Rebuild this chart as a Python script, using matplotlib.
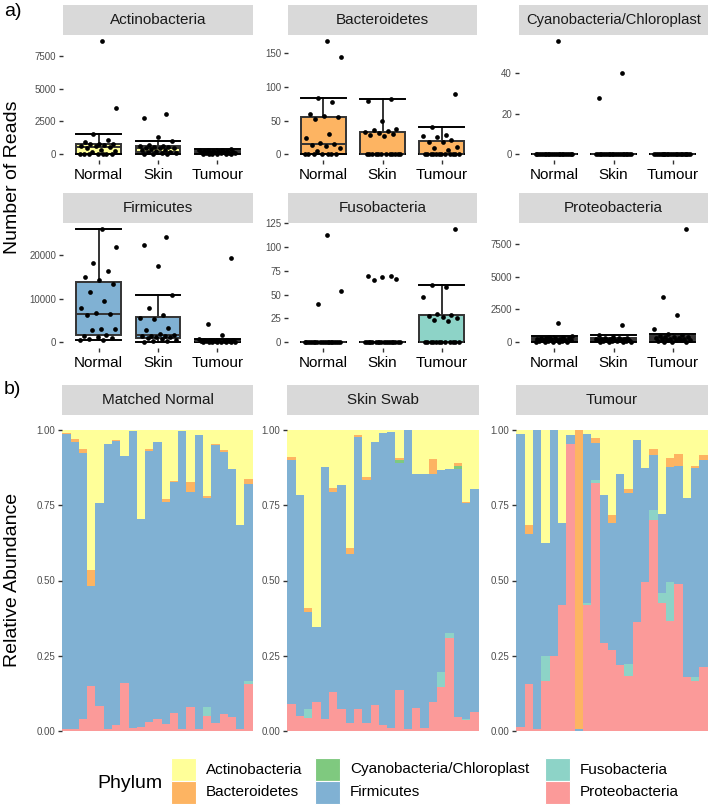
import matplotlib
matplotlib.use('Agg')
import matplotlib.pyplot as plt
from matplotlib.patches import Rectangle
import numpy as np

plt.rcParams['font.family'] = ['Liberation Sans', 'DejaVu Sans']

# ---------------- data: panel a (read counts) ----------------
groups = ['Normal', 'Skin', 'Tumour']
phyla = ['Actinobacteria', 'Bacteroidetes', 'Cyanobacteria/Chloroplast',
         'Firmicutes', 'Fusobacteria', 'Proteobacteria']

actino_normal = [0, 5, 10, 15, 20, 30, 35, 150, 250, 350, 450, 550, 600, 650, 700, 750, 780, 820, 900, 1100, 1550, 3550, 8650]
actino_skin = [10, 20, 40, 80, 120, 190, 210, 250, 300, 350, 400, 450, 480, 500, 520, 560, 600, 640, 700, 1050, 1300, 2750, 3050]
actino_tumour = [5, 12, 25, 33, 48, 60, 72, 90, 105, 118, 140, 155, 170, 190, 205, 230, 250, 270, 290, 310, 335, 360, 390]

bact_normal = [0, 0, 0, 0, 0, 0, 0, 5, 10, 12, 14, 15, 17, 25, 30, 52, 55, 57, 60, 78, 84, 145, 169]
bact_skin = [0, 0, 0, 0, 0, 0, 0, 0, 0, 0, 0, 0, 27, 29, 30, 31, 33, 34, 36, 38, 49, 80, 82]
bact_tumour = [0, 0, 0, 0, 0, 0, 0, 0, 0, 0, 0, 0, 7, 9, 11, 18, 19, 21, 26, 27, 28, 40, 90]

cyano_normal = [0, 0, 0, 0, 0, 0, 0, 0, 0, 0, 0, 0, 0, 0, 0, 0, 0, 0, 0, 0, 0, 0, 56]
cyano_skin = [0, 0, 0, 0, 0, 0, 0, 0, 0, 0, 0, 0, 0, 0, 0, 0, 0, 0, 0, 0, 0, 28, 40]
cyano_tumour = [0, 0, 0, 0, 0, 0, 0, 0, 0, 0, 0, 0, 0, 0, 0, 0, 0, 0, 0, 0, 0, 0, 0]

firm_normal = [450, 500, 700, 900, 1300, 1500, 1700, 2900, 3000, 3100, 6200, 6550, 6700, 8000, 9500, 11500, 13500, 14300, 15000, 16500, 18300, 22000, 26100]
firm_skin = [200, 300, 400, 500, 700, 1000, 1200, 1300, 1400, 1500, 1550, 1600, 2000, 2800, 3300, 5300, 5500, 6300, 8000, 10900, 17600, 22300, 24200]
firm_tumour = [20, 40, 60, 90, 120, 150, 180, 200, 250, 300, 330, 380, 400, 450, 500, 520, 560, 600, 650, 700, 1700, 4300, 19400]

fuso_normal = [0, 0, 0, 0, 0, 0, 0, 0, 0, 0, 0, 0, 0, 0, 0, 0, 0, 0, 0, 0, 40, 54, 112]
fuso_skin = [0, 0, 0, 0, 0, 0, 0, 0, 0, 0, 0, 0, 0, 0, 0, 0, 0, 0, 65, 66, 68, 69, 70]
fuso_tumour = [0, 0, 0, 0, 0, 0, 0, 0, 0, 0, 0, 0, 22, 23, 25, 27, 28, 29, 30, 48, 58, 60, 119]

proteo_normal = [10, 20, 30, 45, 60, 80, 100, 120, 140, 160, 180, 200, 220, 250, 280, 300, 320, 340, 360, 400, 430, 480, 1500]
proteo_skin = [15, 30, 45, 60, 80, 100, 110, 130, 150, 170, 190, 200, 210, 230, 250, 270, 290, 310, 330, 360, 380, 550, 1300]
proteo_tumour = [0, 30, 60, 100, 140, 160, 180, 200, 230, 260, 290, 320, 350, 380, 420, 440, 460, 520, 640, 1030, 2050, 3450, 8650]

ticks_actino = [0, 2500, 5000, 7500]
ticks_bact = [0, 50, 100, 150]
ticks_cyano = [0, 20, 40]
ticks_firm = [0, 10000, 20000]
ticks_fuso = [0, 25, 50, 75, 100, 125]
ticks_proteo = [0, 2500, 5000, 7500]

# ---------------- data: panel b (relative abundance, segment heights) ----------------
sample_types = ['Matched Normal', 'Skin Swab', 'Tumour']

mn_proteo = [.008, .005, .040, .150, .083, .008, .019, .158, .010, .013, .030, .040, .022, .059, .005, .079, .005, .051, .028, .055, .047, .005, .155]
mn_fuso = [0, 0, 0, 0, 0, 0, 0, 0, 0, 0, 0, 0, 0, 0, 0, 0, 0, .027, 0, 0, 0, 0, .010]
mn_firm = [.979, .956, .883, .333, .674, .946, .946, .757, .988, .692, .902, .921, .739, .767, .993, .715, .978, .696, .922, .871, .823, .678, .655]
mn_cyano = [0, 0, 0, 0, 0, 0, 0, 0, 0, 0, 0, 0, 0, 0, 0, 0, 0, 0, 0, 0, 0, 0, 0]
mn_bact = [.004, .008, .014, .052, 0, 0, .002, 0, 0, 0, .004, 0, .010, .006, 0, .032, 0, .008, .004, .007, 0, 0, .017]
mn_actino = [.009, .031, .063, .465, .243, .046, .033, .085, .002, .295, .064, .039, .229, .168, .002, .174, .017, .218, .046, .067, .130, .317, .163]

ss_proteo = [.090, .050, .044, .095, .040, .128, .072, .025, .072, .028, .085, .020, .010, .136, .005, .075, .010, .095, .147, .308, .045, .036, .064]
ss_fuso = [0, 0, .028, 0, 0, 0, 0, 0, 0, 0, 0, 0, 0, 0, 0, 0, 0, 0, .050, .016, 0, .004, 0]
ss_firm = [.809, .733, .324, .252, .837, .665, .745, .562, .904, .805, .875, .969, .984, .754, .995, .780, .844, .760, .671, .548, .825, .718, .741]
ss_cyano = [0, 0, 0, 0, 0, 0, 0, 0, 0, 0, 0, 0, 0, .009, 0, 0, 0, 0, 0, 0, .009, 0, 0]
ss_bact = [.011, 0, .013, 0, 0, .014, 0, .020, .006, .011, 0, 0, 0, .008, 0, 0, 0, .048, 0, 0, .011, .003, 0]
ss_actino = [.090, .217, .591, .653, .123, .193, .183, .393, .018, .156, .040, .011, .006, .093, 0, .145, .146, .097, .132, .128, .110, .239, .195]

tu_proteo = [.012, .156, .005, .166, .249, .419, .952, 0, .420, .825, .291, .269, .219, .184, .363, .496, .700, .424, .367, .488, .180, .166, .212]
tu_fuso = [0, 0, 0, .083, 0, 0, 0, 0, .005, .010, 0, 0, 0, .039, 0, 0, .034, .036, .129, 0, 0, .014, 0]
tu_firm = [.975, .498, .995, .374, .751, .271, .030, .005, .562, .123, .493, .421, .634, .567, .604, .379, .183, .260, .382, .392, .593, .693, .688]
tu_cyano = [0, 0, 0, 0, 0, 0, 0, 0, 0, 0, 0, 0, 0, 0, 0, 0, 0, 0, 0, 0, 0, 0, 0]
tu_bact = [0, .030, 0, 0, 0, 0, 0, .995, 0, .014, 0, .028, 0, .014, 0, 0, .019, 0, .028, .040, 0, .007, .017]
tu_actino = [.013, .316, 0, .377, 0, .310, .018, 0, .013, .028, .216, .282, .147, .196, .033, .125, .064, .280, .094, .080, .227, .120, .083]

rel_ticks = [0.0, 0.25, 0.5, 0.75, 1.0]
rel_tick_labels = ['0.00', '0.25', '0.50', '0.75', '1.00']

colors = {
    'Actinobacteria': '#FFFF99',
    'Bacteroidetes': '#FDB462',
    'Cyanobacteria/Chloroplast': '#7FC97F',
    'Firmicutes': '#80B1D3',
    'Fusobacteria': '#8DD3C7',
    'Proteobacteria': '#FB9A99',
}

# ---------------- figure ----------------
W, H = 709, 806
fig = plt.figure(figsize=(W / 100, H / 100), dpi=100)


def add_ax(x0, y0, x1, y1):
    return fig.add_axes([x0 / W, 1 - y1 / H, (x1 - x0) / W, (y1 - y0) / H])


def strip(x0, y0, x1, y1, label, size=11):
    fig.add_artist(Rectangle((x0 / W, 1 - y1 / H), (x1 - x0) / W, (y1 - y0) / H,
                             transform=fig.transFigure, facecolor='#D9D9D9',
                             edgecolor='none'))
    fig.text((x0 + x1) / 2 / W, 1 - (y0 + y1) / 2 / H, label, ha='center',
             va='center', fontsize=size, color='#1A1A1A')


def style_axis(ax):
    for s in ax.spines.values():
        s.set_visible(False)
    ax.tick_params(axis='y', length=3, width=1, color='#333333', labelsize=7,
                   labelcolor='#4D4D4D', pad=2)
    ax.tick_params(axis='x', length=3, width=1, color='#333333', labelsize=11,
                   labelcolor='black', pad=3)


top_data = [
    (actino_normal, actino_skin, actino_tumour, ticks_actino),
    (bact_normal, bact_skin, bact_tumour, ticks_bact),
    (cyano_normal, cyano_skin, cyano_tumour, ticks_cyano),
    (firm_normal, firm_skin, firm_tumour, ticks_firm),
    (fuso_normal, fuso_skin, fuso_tumour, ticks_fuso),
    (proteo_normal, proteo_skin, proteo_tumour, ticks_proteo),
]

col_x = [(63, 253), (288, 477), (519, 708)]
row_y = [(5, 35, 160), (193, 223, 348)]

for i, (ph, (a, b, c, ticks)) in enumerate(zip(phyla, top_data)):
    r, k = divmod(i, 3)
    x0, x1 = col_x[k]
    sy0, sy1, py1 = row_y[r]
    strip(x0, sy0, x1, sy1, ph, size=11 if len(ph) < 20 else 10.6)
    ax = add_ax(x0, sy1, x1, py1)
    vals = [a, b, c]
    bp = ax.boxplot(vals, positions=[0, 1, 2], widths=0.75, patch_artist=True,
                    showfliers=False, whis=1.5, capwidths=0.75,
                    boxprops=dict(facecolor=colors[ph], edgecolor='#333333', linewidth=1.4),
                    medianprops=dict(color='#333333', linewidth=1.4),
                    whiskerprops=dict(color='#333333', linewidth=1.4),
                    capprops=dict(color='black', linewidth=1.4), zorder=2)
    for g, v in enumerate(vals):
        n = len(v)
        offs = (((np.arange(n) * 0.618034 + 0.13 * g) % 1.0) - 0.5) * 0.62
        ax.plot(g + offs, v, 'o', color='black', ms=3.4, mew=0, zorder=3)
    allv = np.concatenate([np.asarray(a), np.asarray(b), np.asarray(c)])
    lo, hi = allv.min(), allv.max()
    rng = hi - lo
    ax.set_ylim(lo - 0.05 * rng, hi + 0.05 * rng)
    ax.set_xlim(-0.6, 2.6)
    ax.set_yticks(ticks)
    ax.set_yticklabels([str(t) for t in ticks])
    ax.set_xticks([0, 1, 2])
    ax.set_xticklabels(groups)
    style_axis(ax)

fig.text(13 / W, 1 - 177 / H, 'Number of Reads', rotation=90, ha='center',
         va='center', fontsize=14, color='black')

# ---------------- panel b ----------------
bottom_sets = [
    (mn_proteo, mn_fuso, mn_firm, mn_cyano, mn_bact, mn_actino),
    (ss_proteo, ss_fuso, ss_firm, ss_cyano, ss_bact, ss_actino),
    (tu_proteo, tu_fuso, tu_firm, tu_cyano, tu_bact, tu_actino),
]
stack_order = ['Proteobacteria', 'Fusobacteria', 'Firmicutes',
               'Cyanobacteria/Chloroplast', 'Bacteroidetes', 'Actinobacteria']
bcol_x = [(62, 253), (287, 479), (516, 708)]

for k, (name, segs) in enumerate(zip(sample_types, bottom_sets)):
    x0, x1 = bcol_x[k]
    strip(x0, 385, x1, 415, name)
    ax = add_ax(x0, 415, x1, 746)
    n = len(segs[0])
    xs = np.arange(1, n + 1)
    base = np.zeros(n)
    for ph, seg in zip(stack_order, segs):
        seg = np.asarray(seg, dtype=float)
        ax.bar(xs, seg, bottom=base, width=1.0, color=colors[ph], linewidth=0)
        base = base + seg
    ax.set_xlim(0.45, n + 0.55)
    ax.set_ylim(-0.05, 1.05)
    ax.set_yticks(rel_ticks)
    ax.set_yticklabels(rel_tick_labels)
    ax.set_xticks([])
    style_axis(ax)

fig.text(13 / W, 1 - 580 / H, 'Relative Abundance', rotation=90, ha='center',
         va='center', fontsize=14, color='black')

fig.text(4 / W, 1 - 12 / H, 'a)', ha='left', va='center', fontsize=14)
fig.text(4 / W, 1 - 390 / H, 'b)', ha='left', va='center', fontsize=14)

# ---------------- legend ----------------
fig.text(97 / W, 1 - 784 / H, 'Phylum', ha='left', va='center', fontsize=14)
legend_cols = [(171, ['Actinobacteria', 'Bacteroidetes']),
               (315, ['Cyanobacteria/Chloroplast', 'Firmicutes']),
               (545, ['Fusobacteria', 'Proteobacteria'])]
for kx, labs in legend_cols:
    for j, lab in enumerate(labs):
        ky0 = 758 + j * 23
        fig.add_artist(Rectangle((kx / W, 1 - (ky0 + 23) / H), 25 / W, 23 / H,
                                 transform=fig.transFigure,
                                 facecolor=colors[lab], edgecolor='white',
                                 linewidth=0.8))
        fig.text((kx + 35) / W, 1 - (ky0 + 11.5) / H, lab, ha='left',
                 va='center', fontsize=11)

fig.savefig('out.png', dpi=100)
